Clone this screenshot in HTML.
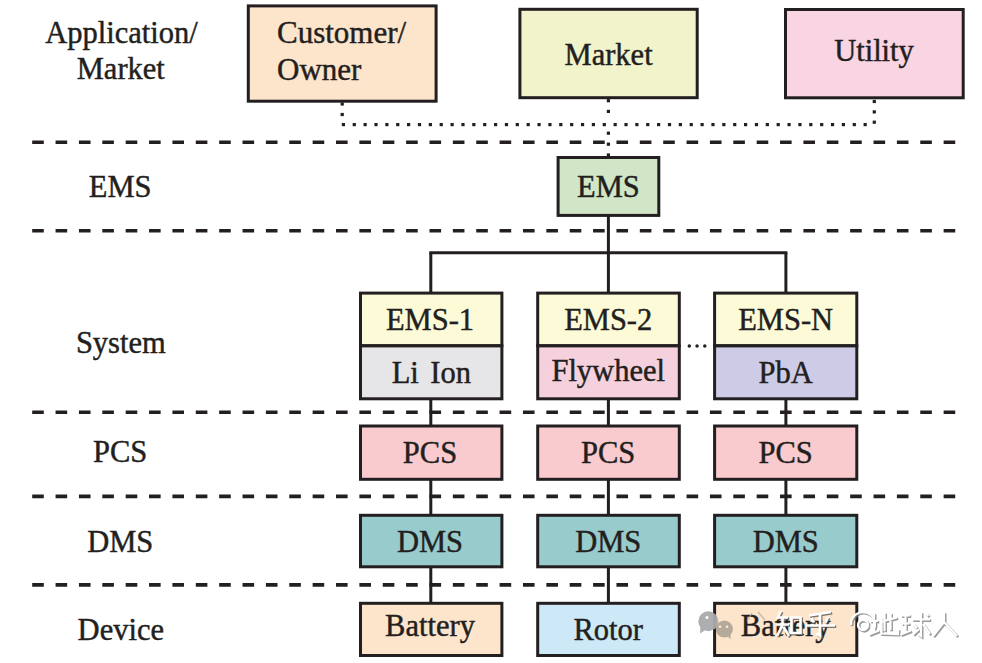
<!DOCTYPE html>
<html><head><meta charset="utf-8"><style>
html,body{margin:0;padding:0;background:#fff;width:982px;height:663px;overflow:hidden}
svg{display:block;font-family:"Liberation Serif",serif}
text{stroke:#231f20;stroke-width:0.45px}
</style></head><body>
<svg width="982" height="663" viewBox="0 0 982 663">
<rect width="982" height="663" fill="#fff"/>
<line x1="32.20" y1="142.20" x2="956.00" y2="142.20" stroke="#231f20" stroke-width="3.6" stroke-dasharray="11.6 11.77"/>
<line x1="32.20" y1="230.70" x2="956.00" y2="230.70" stroke="#231f20" stroke-width="3.6" stroke-dasharray="11.6 11.77"/>
<line x1="32.20" y1="412.20" x2="956.00" y2="412.20" stroke="#231f20" stroke-width="3.6" stroke-dasharray="11.6 11.77"/>
<line x1="32.20" y1="496.40" x2="956.00" y2="496.40" stroke="#231f20" stroke-width="3.6" stroke-dasharray="11.6 11.77"/>
<line x1="32.20" y1="584.90" x2="956.00" y2="584.90" stroke="#231f20" stroke-width="3.6" stroke-dasharray="11.6 11.77"/>
<rect x="341.80" y="123.00" width="3.20" height="3.20" fill="#231f20"/>
<rect x="352.67" y="123.00" width="3.20" height="3.20" fill="#231f20"/>
<rect x="363.54" y="123.00" width="3.20" height="3.20" fill="#231f20"/>
<rect x="374.41" y="123.00" width="3.20" height="3.20" fill="#231f20"/>
<rect x="385.28" y="123.00" width="3.20" height="3.20" fill="#231f20"/>
<rect x="396.15" y="123.00" width="3.20" height="3.20" fill="#231f20"/>
<rect x="407.02" y="123.00" width="3.20" height="3.20" fill="#231f20"/>
<rect x="417.89" y="123.00" width="3.20" height="3.20" fill="#231f20"/>
<rect x="428.76" y="123.00" width="3.20" height="3.20" fill="#231f20"/>
<rect x="439.63" y="123.00" width="3.20" height="3.20" fill="#231f20"/>
<rect x="450.50" y="123.00" width="3.20" height="3.20" fill="#231f20"/>
<rect x="461.37" y="123.00" width="3.20" height="3.20" fill="#231f20"/>
<rect x="472.24" y="123.00" width="3.20" height="3.20" fill="#231f20"/>
<rect x="483.11" y="123.00" width="3.20" height="3.20" fill="#231f20"/>
<rect x="493.98" y="123.00" width="3.20" height="3.20" fill="#231f20"/>
<rect x="504.85" y="123.00" width="3.20" height="3.20" fill="#231f20"/>
<rect x="515.72" y="123.00" width="3.20" height="3.20" fill="#231f20"/>
<rect x="526.59" y="123.00" width="3.20" height="3.20" fill="#231f20"/>
<rect x="537.46" y="123.00" width="3.20" height="3.20" fill="#231f20"/>
<rect x="548.33" y="123.00" width="3.20" height="3.20" fill="#231f20"/>
<rect x="559.20" y="123.00" width="3.20" height="3.20" fill="#231f20"/>
<rect x="570.07" y="123.00" width="3.20" height="3.20" fill="#231f20"/>
<rect x="580.94" y="123.00" width="3.20" height="3.20" fill="#231f20"/>
<rect x="591.81" y="123.00" width="3.20" height="3.20" fill="#231f20"/>
<rect x="602.68" y="123.00" width="3.20" height="3.20" fill="#231f20"/>
<rect x="613.55" y="123.00" width="3.20" height="3.20" fill="#231f20"/>
<rect x="624.42" y="123.00" width="3.20" height="3.20" fill="#231f20"/>
<rect x="635.29" y="123.00" width="3.20" height="3.20" fill="#231f20"/>
<rect x="646.16" y="123.00" width="3.20" height="3.20" fill="#231f20"/>
<rect x="657.03" y="123.00" width="3.20" height="3.20" fill="#231f20"/>
<rect x="667.90" y="123.00" width="3.20" height="3.20" fill="#231f20"/>
<rect x="678.77" y="123.00" width="3.20" height="3.20" fill="#231f20"/>
<rect x="689.64" y="123.00" width="3.20" height="3.20" fill="#231f20"/>
<rect x="700.51" y="123.00" width="3.20" height="3.20" fill="#231f20"/>
<rect x="711.38" y="123.00" width="3.20" height="3.20" fill="#231f20"/>
<rect x="722.25" y="123.00" width="3.20" height="3.20" fill="#231f20"/>
<rect x="733.12" y="123.00" width="3.20" height="3.20" fill="#231f20"/>
<rect x="743.99" y="123.00" width="3.20" height="3.20" fill="#231f20"/>
<rect x="754.86" y="123.00" width="3.20" height="3.20" fill="#231f20"/>
<rect x="765.73" y="123.00" width="3.20" height="3.20" fill="#231f20"/>
<rect x="776.60" y="123.00" width="3.20" height="3.20" fill="#231f20"/>
<rect x="787.47" y="123.00" width="3.20" height="3.20" fill="#231f20"/>
<rect x="798.34" y="123.00" width="3.20" height="3.20" fill="#231f20"/>
<rect x="809.21" y="123.00" width="3.20" height="3.20" fill="#231f20"/>
<rect x="820.08" y="123.00" width="3.20" height="3.20" fill="#231f20"/>
<rect x="830.95" y="123.00" width="3.20" height="3.20" fill="#231f20"/>
<rect x="841.82" y="123.00" width="3.20" height="3.20" fill="#231f20"/>
<rect x="852.69" y="123.00" width="3.20" height="3.20" fill="#231f20"/>
<rect x="863.56" y="123.00" width="3.20" height="3.20" fill="#231f20"/>
<rect x="340.60" y="102.40" width="3.20" height="3.20" fill="#231f20"/>
<rect x="340.60" y="112.90" width="3.20" height="3.20" fill="#231f20"/>
<rect x="606.80" y="99.10" width="3.20" height="3.20" fill="#231f20"/>
<rect x="606.80" y="109.80" width="3.20" height="3.20" fill="#231f20"/>
<rect x="606.80" y="131.60" width="3.20" height="3.20" fill="#231f20"/>
<rect x="606.80" y="142.60" width="3.20" height="3.20" fill="#231f20"/>
<rect x="606.80" y="153.40" width="3.20" height="3.20" fill="#231f20"/>
<rect x="872.70" y="99.90" width="3.20" height="3.20" fill="#231f20"/>
<rect x="872.70" y="110.30" width="3.20" height="3.20" fill="#231f20"/>
<rect x="872.70" y="120.60" width="3.20" height="3.20" fill="#231f20"/>
<line x1="608.40" y1="216.00" x2="608.40" y2="254.30" stroke="#231f20" stroke-width="3.0" />
<line x1="430.80" y1="252.80" x2="785.90" y2="252.80" stroke="#231f20" stroke-width="3.0" stroke-linecap="square"/>
<line x1="430.80" y1="252.80" x2="430.80" y2="603.00" stroke="#231f20" stroke-width="3.0" />
<line x1="608.40" y1="252.80" x2="608.40" y2="603.00" stroke="#231f20" stroke-width="3.0" />
<line x1="785.90" y1="252.80" x2="785.90" y2="603.00" stroke="#231f20" stroke-width="3.0" />
<rect x="248.30" y="5.90" width="187.80" height="95.30" fill="#fde5cc" stroke="#231f20" stroke-width="3.0"/>
<rect x="519.90" y="9.30" width="177.30" height="88.40" fill="#f1f3cb" stroke="#231f20" stroke-width="3.0"/>
<rect x="785.50" y="9.50" width="177.70" height="88.30" fill="#f9d4e3" stroke="#231f20" stroke-width="3.0"/>
<rect x="558.10" y="157.50" width="100.70" height="57.90" fill="#d0e6c7" stroke="#231f20" stroke-width="3.0"/>
<rect x="360.50" y="293.10" width="141.40" height="52.60" fill="#fdfad8" stroke="#231f20" stroke-width="3.0"/>
<rect x="360.50" y="345.90" width="141.40" height="52.90" fill="#e6e5e8" stroke="#231f20" stroke-width="3.0"/>
<rect x="360.50" y="426.00" width="141.40" height="53.30" fill="#f9cbce" stroke="#231f20" stroke-width="3.0"/>
<rect x="360.50" y="515.30" width="141.40" height="51.50" fill="#98cbcb" stroke="#231f20" stroke-width="3.0"/>
<rect x="360.50" y="603.30" width="141.40" height="52.20" fill="#fde5cc" stroke="#231f20" stroke-width="3.0"/>
<rect x="537.70" y="293.10" width="141.60" height="52.60" fill="#fdfad8" stroke="#231f20" stroke-width="3.0"/>
<rect x="537.70" y="345.90" width="141.60" height="52.90" fill="#f5d1dd" stroke="#231f20" stroke-width="3.0"/>
<rect x="537.70" y="426.00" width="141.60" height="53.30" fill="#f9cbce" stroke="#231f20" stroke-width="3.0"/>
<rect x="537.70" y="515.30" width="141.60" height="51.50" fill="#98cbcb" stroke="#231f20" stroke-width="3.0"/>
<rect x="537.70" y="603.30" width="141.60" height="52.20" fill="#cde9f8" stroke="#231f20" stroke-width="3.0"/>
<rect x="714.60" y="293.10" width="142.20" height="52.60" fill="#fdfad8" stroke="#231f20" stroke-width="3.0"/>
<rect x="714.60" y="345.90" width="142.20" height="52.90" fill="#cecbe7" stroke="#231f20" stroke-width="3.0"/>
<rect x="714.60" y="426.00" width="142.20" height="53.30" fill="#f9cbce" stroke="#231f20" stroke-width="3.0"/>
<rect x="714.60" y="515.30" width="142.20" height="51.50" fill="#98cbcb" stroke="#231f20" stroke-width="3.0"/>
<rect x="714.60" y="603.30" width="142.20" height="52.20" fill="#fde5cc" stroke="#231f20" stroke-width="3.0"/>
<text x="121.40" y="42.60" font-size="30.5" fill="#231f20" text-anchor="middle" >Application/</text>
<text x="120.80" y="79.20" font-size="30.5" fill="#231f20" text-anchor="middle" >Market</text>
<text x="120.20" y="196.70" font-size="30.5" fill="#231f20" text-anchor="middle" >EMS</text>
<text x="120.80" y="353.20" font-size="30.5" fill="#231f20" text-anchor="middle" >System</text>
<text x="120.20" y="462.40" font-size="30.5" fill="#231f20" text-anchor="middle" >PCS</text>
<text x="120.20" y="552.00" font-size="30.5" fill="#231f20" text-anchor="middle" >DMS</text>
<text x="120.80" y="639.70" font-size="30.5" fill="#231f20" text-anchor="middle" >Device</text>
<text x="277" y="42.5" font-size="31" fill="#231f20">Customer/</text>
<text x="277" y="79.5" font-size="31" fill="#231f20">Owner</text>
<text x="608.60" y="64.50" font-size="30.5" fill="#231f20" text-anchor="middle" >Market</text>
<text x="874.00" y="61.00" font-size="30.5" fill="#231f20" text-anchor="middle" >Utility</text>
<text x="608.40" y="197.40" font-size="30.5" fill="#231f20" text-anchor="middle" >EMS</text>
<text x="430.00" y="329.60" font-size="30.5" fill="#231f20" text-anchor="middle" >EMS-1</text>
<text x="431.30" y="382.60" font-size="30.5" fill="#231f20" text-anchor="middle" >Li<tspan dx="3.8"> Ion</tspan></text>
<text x="430.00" y="462.80" font-size="30.5" fill="#231f20" text-anchor="middle" >PCS</text>
<text x="430.00" y="551.80" font-size="30.5" fill="#231f20" text-anchor="middle" >DMS</text>
<text x="430.00" y="636.40" font-size="30.5" fill="#231f20" text-anchor="middle" >Battery</text>
<text x="608.20" y="329.60" font-size="30.5" fill="#231f20" text-anchor="middle" >EMS-2</text>
<text x="608.20" y="380.90" font-size="30.5" fill="#231f20" text-anchor="middle" >Flywheel</text>
<text x="608.20" y="462.80" font-size="30.5" fill="#231f20" text-anchor="middle" >PCS</text>
<text x="608.20" y="551.80" font-size="30.5" fill="#231f20" text-anchor="middle" >DMS</text>
<text x="608.20" y="639.70" font-size="30.5" fill="#231f20" text-anchor="middle" >Rotor</text>
<text x="785.70" y="329.60" font-size="30.5" fill="#231f20" text-anchor="middle" >EMS-N</text>
<text x="785.70" y="382.60" font-size="30.5" fill="#231f20" text-anchor="middle" >PbA</text>
<text x="785.70" y="462.80" font-size="30.5" fill="#231f20" text-anchor="middle" >PCS</text>
<text x="785.70" y="551.80" font-size="30.5" fill="#231f20" text-anchor="middle" >DMS</text>
<text x="785.70" y="636.40" font-size="30.5" fill="#231f20" text-anchor="middle" >Battery</text>
<circle cx="689.30" cy="346.1" r="1.75" fill="#231f20"/>
<circle cx="697.05" cy="346.1" r="1.75" fill="#231f20"/>
<circle cx="704.80" cy="346.1" r="1.75" fill="#231f20"/>
<g opacity="0.95">
<circle cx="708.3" cy="621.3" r="10" fill="#a9aaab"/>
<path d="M700.5 626 L700 633.5 L706 629.5 Z" fill="#a9aaab"/>
<circle cx="707" cy="617.5" r="1.5" fill="#fff"/>
<circle cx="724.3" cy="629" r="8.6" fill="#b2a797"/>
<path d="M726 634 L730.5 639.5 L730.5 632 Z" fill="#b2a797"/>
<circle cx="720" cy="626.8" r="1.3" fill="#f4ebe0"/>
<circle cx="727" cy="626.8" r="1.3" fill="#f4ebe0"/>
</g>
<path d="M752 613 L747 621 M758 612 L765 620" stroke="#b8ab9a" stroke-width="1.3" fill="none" opacity="0.8"/>
<path d="M781 611 L777 619 M778 617.5 L788 617.5 M776 624.5 L789 624.5 M782.5 617.5 L782.5 625 L777 636 M783.5 627 L789 636 M791.5 617.5 L800.5 617.5 L800.5 633 L791.5 633 Z M831 612 L809 615.5 M811.5 618 L814 622.5 M828 617 L825.5 622.5 M806 625.5 L835 625.5 M820 615 L820 636 L816.5 633.5" transform="translate(1.2,1.2)" stroke="#5e5a56" stroke-width="2.6" fill="none" opacity="0.8"/>
<path d="M781 611 L777 619 M778 617.5 L788 617.5 M776 624.5 L789 624.5 M782.5 617.5 L782.5 625 L777 636 M783.5 627 L789 636 M791.5 617.5 L800.5 617.5 L800.5 633 L791.5 633 Z M831 612 L809 615.5 M811.5 618 L814 622.5 M828 617 L825.5 622.5 M806 625.5 L835 625.5 M820 615 L820 636 L816.5 633.5" stroke="#ffffff" stroke-width="2.6" fill="none"/>
<path d="M851 625 A12 12 0 1 1 872 632 M868 625 A5 5 0 1 1 868 624.9 M870 621 L878 621 M874 613 L874 633 M869 634.5 L879 630.5 M880 622 L897 617.5 M884.5 612.5 L884.5 631 M890.5 613 L890.5 630 M881.5 618 L881.5 633.5 L898 634 L898 629 M901 615.5 L910 615.5 M901.5 623.5 L909.5 623.5 M905.5 615.5 L905.5 633 M900.5 634.5 L911 630.5 M912 619.5 L930 619.5 M921 612 L921 636 L918 634 M913 624 L917 628 M913 634.5 L919 629 M923 624 L930 634 M926 613.5 L928.5 616 M944 612 L944 622 L933 636 M944 622 L957 636" transform="translate(1.2,1.2)" stroke="#7a7876" stroke-width="2.6" fill="none" opacity="0.75"/>
<path d="M851 625 A12 12 0 1 1 872 632 M868 625 A5 5 0 1 1 868 624.9 M870 621 L878 621 M874 613 L874 633 M869 634.5 L879 630.5 M880 622 L897 617.5 M884.5 612.5 L884.5 631 M890.5 613 L890.5 630 M881.5 618 L881.5 633.5 L898 634 L898 629 M901 615.5 L910 615.5 M901.5 623.5 L909.5 623.5 M905.5 615.5 L905.5 633 M900.5 634.5 L911 630.5 M912 619.5 L930 619.5 M921 612 L921 636 L918 634 M913 624 L917 628 M913 634.5 L919 629 M923 624 L930 634 M926 613.5 L928.5 616 M944 612 L944 622 L933 636 M944 622 L957 636" stroke="#ffffff" stroke-width="2.2" fill="none"/>
</svg>
</body></html>
